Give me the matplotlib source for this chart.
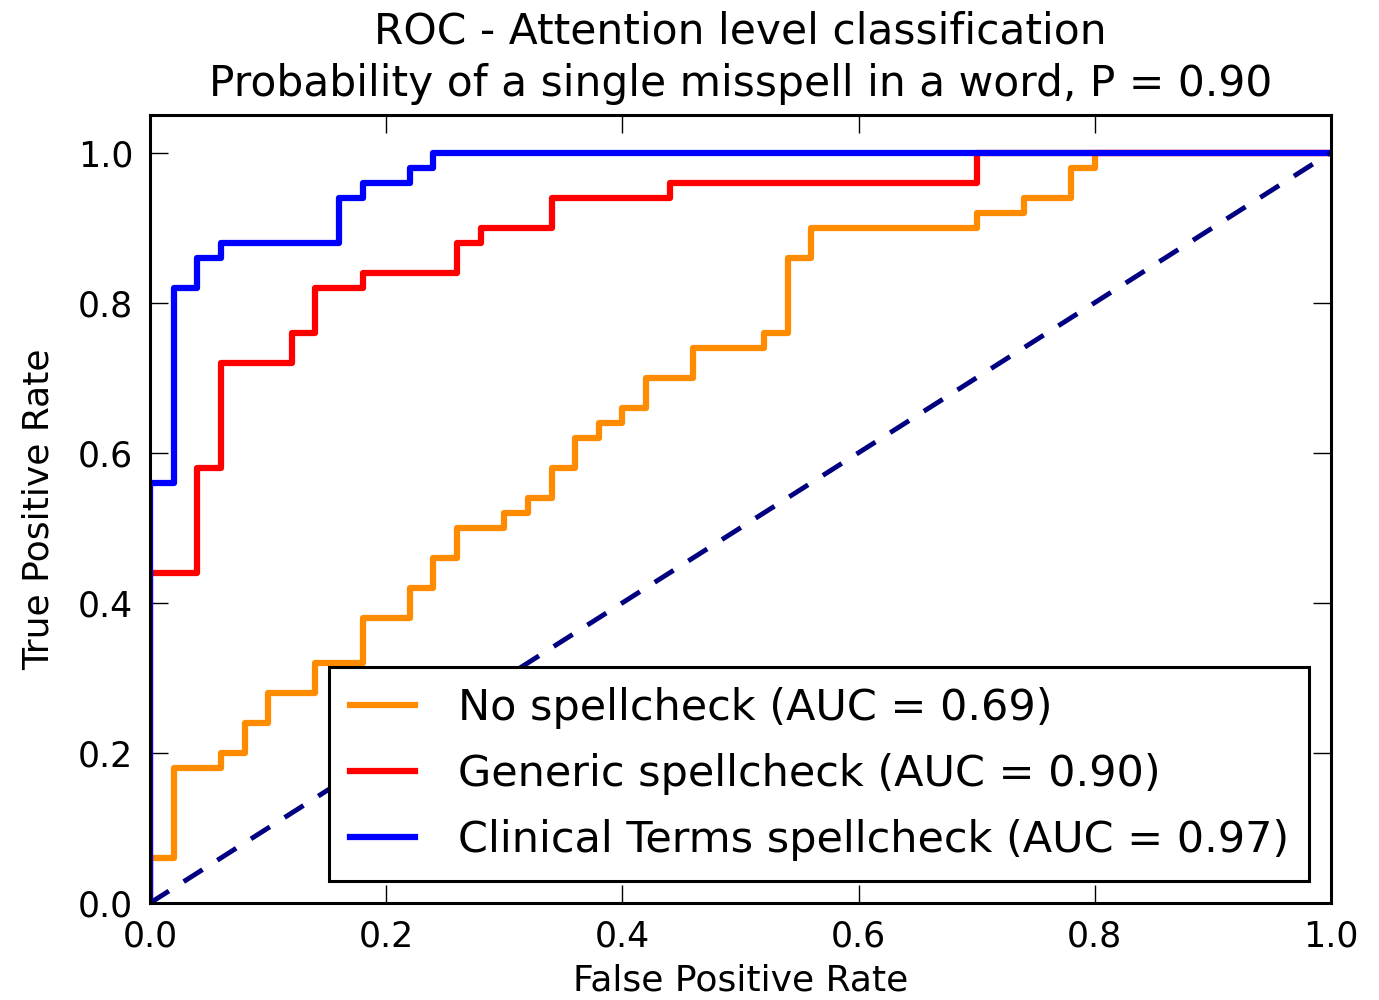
import matplotlib
matplotlib.use("Agg")
import matplotlib.pyplot as plt

# ROC step points (FPR, TPR)
fpr_none = [0.0, 0.0, 0.02, 0.02, 0.06, 0.06, 0.08, 0.08, 0.10, 0.10, 0.14, 0.14, 0.18, 0.18,
            0.22, 0.22, 0.24, 0.24, 0.26, 0.26, 0.30, 0.30, 0.32, 0.32, 0.34, 0.34, 0.36, 0.36,
            0.38, 0.38, 0.40, 0.40, 0.42, 0.42, 0.46, 0.46, 0.52, 0.52, 0.54, 0.54, 0.56, 0.56,
            0.70, 0.70, 0.74, 0.74, 0.78, 0.78, 0.80, 0.80, 1.0]
tpr_none = [0.0, 0.06, 0.06, 0.18, 0.18, 0.20, 0.20, 0.24, 0.24, 0.28, 0.28, 0.32, 0.32, 0.38,
            0.38, 0.42, 0.42, 0.46, 0.46, 0.50, 0.50, 0.52, 0.52, 0.54, 0.54, 0.58, 0.58, 0.62,
            0.62, 0.64, 0.64, 0.66, 0.66, 0.70, 0.70, 0.74, 0.74, 0.76, 0.76, 0.86, 0.86, 0.90,
            0.90, 0.92, 0.92, 0.94, 0.94, 0.98, 0.98, 1.0, 1.0]

fpr_generic = [0.0, 0.0, 0.04, 0.04, 0.06, 0.06, 0.12, 0.12, 0.14, 0.14, 0.18, 0.18, 0.26, 0.26,
               0.28, 0.28, 0.34, 0.34, 0.44, 0.44, 0.70, 0.70, 1.0]
tpr_generic = [0.0, 0.44, 0.44, 0.58, 0.58, 0.72, 0.72, 0.76, 0.76, 0.82, 0.82, 0.84, 0.84, 0.88,
               0.88, 0.90, 0.90, 0.94, 0.94, 0.96, 0.96, 1.0, 1.0]

fpr_clinical = [0.0, 0.0, 0.02, 0.02, 0.04, 0.04, 0.06, 0.06, 0.16, 0.16, 0.18, 0.18, 0.22, 0.22,
                0.24, 0.24, 1.0]
tpr_clinical = [0.0, 0.56, 0.56, 0.82, 0.82, 0.86, 0.86, 0.88, 0.88, 0.94, 0.94, 0.96, 0.96, 0.98,
                0.98, 1.0, 1.0]

labels = ["No spellcheck (AUC = 0.69)",
          "Generic spellcheck (AUC = 0.90)",
          "Clinical Terms spellcheck (AUC = 0.97)"]
colors = ["darkorange", "red", "blue"]

fig = plt.figure(figsize=(13.79, 10), dpi=100)
ax = fig.add_axes([0.1088, 0.097, 0.8564, 0.788])

lw = 4.5
ax.plot(fpr_none, tpr_none, color=colors[0], lw=lw, label=labels[0])
ax.plot(fpr_generic, tpr_generic, color=colors[1], lw=lw, label=labels[1])
ax.plot(fpr_clinical, tpr_clinical, color=colors[2], lw=lw, label=labels[2])
ax.plot([0, 1], [0, 1], color="navy", lw=3.5, linestyle=(0, (4.6, 3.6)))

ax.set_xlim(0.0, 1.0)
ax.set_ylim(0.0, 1.05)
ax.set_xticks([0.0, 0.2, 0.4, 0.6, 0.8, 1.0])
ax.set_yticks([0.0, 0.2, 0.4, 0.6, 0.8, 1.0])
ax.tick_params(direction="in", length=13, width=1, labelsize=25, pad=12,
               top=True, right=True)
for s in ax.spines.values():
    s.set_linewidth(2.2)

ax.set_xlabel("False Positive Rate", fontsize=26, labelpad=7)
ax.set_ylabel("True Positive Rate", fontsize=26, labelpad=16)
ax.set_title("ROC - Attention level classification\n"
             "Probability of a single misspell in a word, P = 0.90",
             fontsize=30.5, pad=14, linespacing=1.3)

leg = ax.legend(loc="lower right", fontsize=31, fancybox=False, framealpha=1,
                borderpad=0.48, handlelength=1.5, handletextpad=1.0, labelspacing=0.55)
leg.get_frame().set_edgecolor("black")
leg.get_frame().set_linewidth(2.2)

fig.savefig("out.png", dpi=100)
